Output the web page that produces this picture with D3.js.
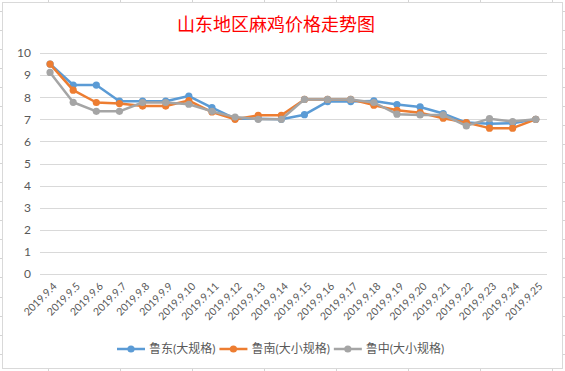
<!DOCTYPE html>
<html>
<head>
<meta charset="utf-8">
<script src="https://cdn.jsdelivr.net/npm/d3@7"></script>
<style>
  body { margin: 0; background: #fff; }
  text { font-family: Lato, "Noto Sans CJK SC", sans-serif; fill: #595959; }
</style>
</head>
<body>
<div id="chart"></div>
<script>
const svgWidth = 565;
const svgHeight = 371;

// data
const dates = ['2019.9.4','2019.9.5','2019.9.6','2019.9.7','2019.9.8','2019.9.9','2019.9.10',
  '2019.9.11','2019.9.12','2019.9.13','2019.9.14','2019.9.15','2019.9.16','2019.9.17',
  '2019.9.18','2019.9.19','2019.9.20','2019.9.21','2019.9.22','2019.9.23','2019.9.24','2019.9.25'];
const ludong = [9.5, 8.55, 8.55, 7.82, 7.82, 7.82, 8.05, 7.53, 7.03, 7.03, 7.0, 7.21, 7.8, 7.8, 7.83, 7.67, 7.56, 7.26, 6.85, 6.8, 6.82, 7.0];
const lunan  = [9.5, 8.32, 7.76, 7.71, 7.6, 7.6, 7.85, 7.33, 7.0, 7.18, 7.18, 7.9, 7.9, 7.9, 7.64, 7.41, 7.3, 7.05, 6.85, 6.6, 6.6, 7.0];
const luzhong = [9.12, 7.77, 7.36, 7.36, 7.76, 7.76, 7.68, 7.36, 7.1, 7.0, 7.0, 7.9, 7.9, 7.9, 7.76, 7.23, 7.2, 7.2, 6.7, 7.03, 6.9, 7.0];
const seriesNames = ['鲁东(大规格)', '鲁南(大小规格)', '鲁中(大小规格)'];
const seriesColors = ['#5B9BD5', '#ED7D31', '#A5A5A5'];
const yTicks = [0, 1, 2, 3, 4, 5, 6, 7, 8, 9, 10];

const series = [ludong, lunan, luzhong].map((vals, i) => ({
  name: seriesNames[i], color: seriesColors[i], values: vals
}));

let svg = d3.select('#chart')
  .append('svg')
  .attr('width', svgWidth)
  .attr('height', svgHeight);

// spreadsheet cell lines peeking around the chart
const sheet = svg.append('g').attr('stroke', '#D4D4D4').attr('stroke-width', 1);
d3.range(47.5, svgWidth, 72.1).forEach(x => {
  sheet.append('line').attr('x1', Math.round(x) + 0.5).attr('x2', Math.round(x) + 0.5).attr('y1', 0).attr('y2', 3);
  sheet.append('line').attr('x1', Math.round(x) + 0.5).attr('x2', Math.round(x) + 0.5).attr('y1', 368).attr('y2', svgHeight);
});
d3.range(10.5, svgHeight, 19.07).forEach(y => {
  sheet.append('line').attr('x1', 0).attr('x2', 3).attr('y1', Math.round(y) + 0.5).attr('y2', Math.round(y) + 0.5);
  sheet.append('line').attr('x1', 562).attr('x2', svgWidth).attr('y1', Math.round(y) + 0.5).attr('y2', Math.round(y) + 0.5);
});

// chart frame
svg.append('rect')
  .attr('x', 2.5).attr('y', 2.5)
  .attr('width', 560).attr('height', 366)
  .attr('fill', '#fff')
  .attr('stroke', '#D9D9D9');

// title
svg.append('text')
  .attr('x', 276).attr('y', 31)
  .attr('text-anchor', 'middle')
  .style('font-family', '"Noto Sans CJK SC", sans-serif')
  .style('font-size', '18px')
  .style('fill', '#FF0000')
  .text('山东地区麻鸡价格走势图');

let x = d3.scalePoint()
  .domain(dates)
  .range([38.5, 547.3])
  .padding(0.5);

let y = d3.scaleLinear()
  .domain([0, 10])
  .range([274, 53]);

// gridlines
svg.append('g')
  .selectAll('line')
  .data(yTicks)
  .enter()
  .append('line')
  .attr('x1', 40).attr('x2', 547)
  .attr('y1', d => Math.round(y(d)) + 0.5)
  .attr('y2', d => Math.round(y(d)) + 0.5)
  .attr('stroke', '#D9D9D9')
  .attr('stroke-width', 1);

// y axis labels
let yAxis = svg.append('g')
  .attr('transform', 'translate(40,0)')
  .call(d3.axisLeft(y).tickValues(yTicks).tickSize(0).tickPadding(9));
yAxis.select('.domain').remove();
yAxis.selectAll('text')
  .style('font-size', '12px')
  .style('fill', '#595959');

// x axis labels, rotated
let xAxis = svg.append('g')
  .attr('transform', 'translate(0,274)')
  .call(d3.axisBottom(x).tickSize(0).tickPadding(0));
xAxis.select('.domain').remove();
xAxis.selectAll('text')
  .attr('y', 0)
  .attr('dy', 0)
  .attr('text-anchor', 'end')
  .attr('transform', 'translate(7,13) rotate(-45)')
  .style('font-size', '10.5px')
  .style('fill', '#595959');

// lines and markers
let line = d3.line()
  .x((d, i) => x(dates[i]))
  .y(d => y(d));

series.forEach(s => {
  let g = svg.append('g');
  g.append('path')
    .datum(s.values)
    .attr('d', line)
    .attr('fill', 'none')
    .attr('stroke', s.color)
    .attr('stroke-width', 2.5)
    .attr('stroke-linejoin', 'round')
    .attr('stroke-linecap', 'round');
  g.selectAll('circle')
    .data(s.values)
    .enter()
    .append('circle')
    .attr('cx', (d, i) => x(dates[i]))
    .attr('cy', d => y(d))
    .attr('r', 3.6)
    .attr('fill', s.color);
});

// legend
let legend = svg.append('g').attr('transform', 'translate(117,349)');
let lx = 0;
series.forEach(s => {
  let item = legend.append('g').attr('transform', `translate(${lx},0)`);
  item.append('line')
    .attr('x1', 0).attr('x2', 28)
    .attr('stroke', s.color).attr('stroke-width', 2.5);
  item.append('circle').attr('cx', 14).attr('r', 3.6).attr('fill', s.color);
  let t = item.append('text')
    .attr('x', 32).attr('dy', '0.35em')
    .style('font-size', '12px')
    .text(s.name);
  lx += 32 + t.node().getComputedTextLength() + 4;
});
</script>
</body>
</html>
